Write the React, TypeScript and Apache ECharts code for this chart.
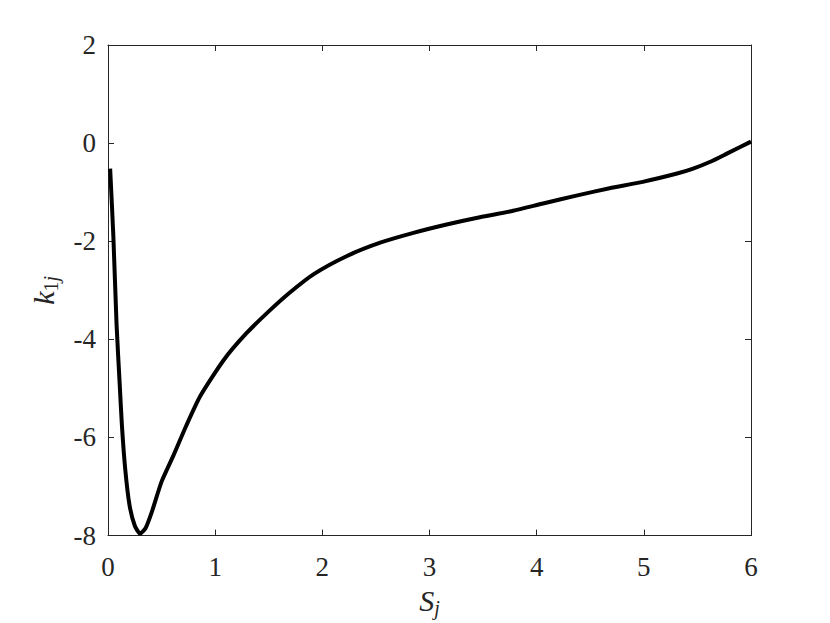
import React, { useEffect, useRef } from "react";
import * as echarts from "echarts";

const xs = [0.02, 0.05, 0.08, 0.11, 0.13, 0.16, 0.2, 0.25, 0.3, 0.35, 0.41, 0.5, 0.61, 0.73, 0.86, 1.08, 1.29, 1.51, 1.7, 1.92, 2.23, 2.54, 2.85, 3.16, 3.47, 3.78, 4.06, 4.37, 4.68, 4.99, 5.31, 5.46, 5.62, 5.77, 6.0];
const ys = [-0.52, -1.9, -3.7, -4.95, -5.76, -6.63, -7.37, -7.8, -7.96, -7.85, -7.51, -6.9, -6.37, -5.76, -5.16, -4.42, -3.88, -3.41, -3.04, -2.67, -2.3, -2.03, -1.83, -1.66, -1.51, -1.38, -1.23, -1.07, -0.92, -0.79, -0.62, -0.52, -0.38, -0.22, 0.03];
const xTicks = { min: 0, max: 6, interval: 1 };
const yTicks = { min: -8, max: 2, interval: 2 };

const FONT = "Liberation Serif";
const AXIS_COLOR = "#262626";

export default function App() {
  const ref = useRef<HTMLDivElement>(null);
  useEffect(() => {
    if (!ref.current) return;
    const chart = echarts.init(ref.current, null, { renderer: "svg" });
    const data = xs.map((x, i) => [x, ys[i]]);
    const baseAxis = {
      axisLine: { show: true, onZero: false, lineStyle: { color: AXIS_COLOR, width: 1 } },
      axisTick: { show: true, inside: true, length: 6, lineStyle: { color: AXIS_COLOR, width: 1 } },
      splitLine: { show: false },
    };
    const nameRich = {
      i: { fontFamily: FONT, fontStyle: "italic", fontSize: 30, color: AXIS_COLOR },
      s: { fontFamily: FONT, fontSize: 20, color: AXIS_COLOR, verticalAlign: "bottom", padding: [15, 0, 0, 0] },
      si: { fontFamily: FONT, fontStyle: "italic", fontSize: 20, color: AXIS_COLOR, verticalAlign: "bottom", padding: [15, 0, 0, 0] },
    };
    chart.setOption({
      animation: false,
      backgroundColor: "#ffffff",
      textStyle: { fontFamily: FONT },
      grid: { left: 108, top: 45, right: 79, bottom: 82, containLabel: false },
      xAxis: [
        {
          type: "value",
          ...xTicks,
          ...baseAxis,
          position: "bottom",
          axisLabel: { color: AXIS_COLOR, fontFamily: FONT, fontSize: 27, margin: 18 },
          name: "{i|S}{si|j}",
          nameLocation: "middle",
          nameGap: 46,
          nameTextStyle: { fontFamily: FONT, rich: nameRich },
        },
        { type: "value", ...xTicks, ...baseAxis, position: "top", axisLabel: { show: false } },
      ],
      yAxis: [
        {
          type: "value",
          ...yTicks,
          ...baseAxis,
          position: "left",
          axisLabel: { color: AXIS_COLOR, fontFamily: FONT, fontSize: 27, margin: 12 },
          name: "{i|k}{s|1}{si|j}",
          nameLocation: "middle",
          nameGap: 47,
          nameTextStyle: { fontFamily: FONT, rich: nameRich },
        },
        { type: "value", ...yTicks, ...baseAxis, position: "right", axisLabel: { show: false } },
      ],
      series: [
        {
          type: "line",
          data,
          showSymbol: false,
          smooth: 0.2,
          lineStyle: { color: "#000000", width: 4 },
          clip: true,
        },
      ],
    });
    return () => chart.dispose();
  }, []);
  return <div ref={ref} style={{ width: 830, height: 623, position: "absolute", left: 0, top: 0 }} />;
}
